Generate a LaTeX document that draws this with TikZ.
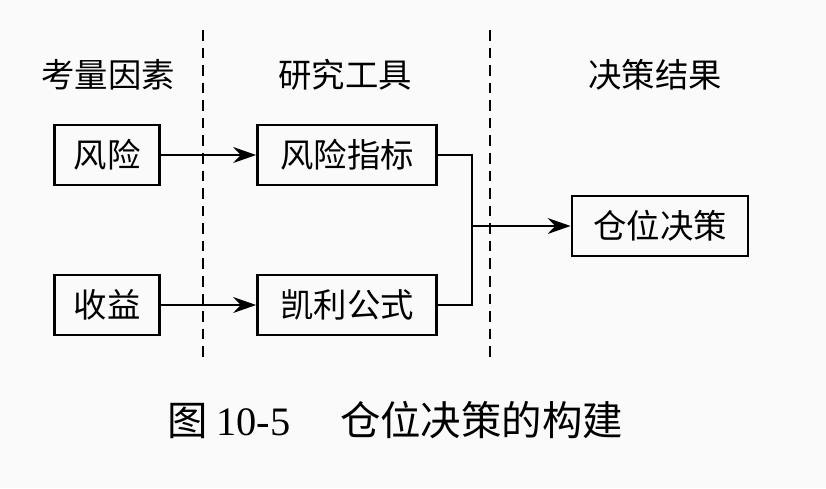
\documentclass[tikz,border=0pt]{standalone}
\usepackage{fontspec}
\setmainfont{Liberation Serif}
\newfontfamily\cjk{Noto Sans CJK SC}
\usetikzlibrary{arrows.meta, positioning}
\begin{document}
\begin{tikzpicture}[x=0.02cm, y=-0.02cm,
    every node/.style={font=\cjk\fontsize{19}{22}\selectfont},
    box/.style={draw, line width=1.6pt, minimum height=1.2cm, inner sep=0pt},
    arr/.style={line width=1.6pt, -{Stealth[length=13pt, width=9pt]}}
]
    \useasboundingbox[fill=gray!4] (0,0) rectangle (826,488);
    % headers
    \node (h1) at (108,75) {考量因素};
    \node (h2) at (345,75) {研究工具};
    \node (h3) at (655,75) {决策结果};
    % separators
    \draw[dash pattern=on 6pt off 4pt, line width=1.4pt] (203,30) -- (203,360);
    \draw[dash pattern=on 6pt off 4pt, line width=1.4pt] (490,30) -- (490,360);
    % boxes
    \node[box, minimum width=2.1cm] (risk) at (107,155) {风险};
    \node[box, minimum width=3.58cm] (riskidx) at (347,155) {风险指标};
    \node[box, minimum width=2.1cm] (gain) at (107,305) {收益};
    \node[box, minimum width=3.58cm] (kelly) at (347,305) {凯利公式};
    \node[box, minimum width=3.52cm] (pos) at (660,226) {仓位决策};
    \coordinate (join) at (472,226);
    % connectors
    \draw[arr] (risk) -- (riskidx);
    \draw[arr] (gain) -- (kelly);
    \draw[line width=1.6pt] (riskidx.east) -| (join);
    \draw[line width=1.6pt] (kelly.east) -| (join);
    \draw[arr] (join) -- (pos);
    % caption
    \node[font=\cjk\fontsize{23}{26}\selectfont] (cap) at (395,420) {图 {\rmfamily 10-5}\quad\ 仓位决策的构建};
\end{tikzpicture}
\end{document}
